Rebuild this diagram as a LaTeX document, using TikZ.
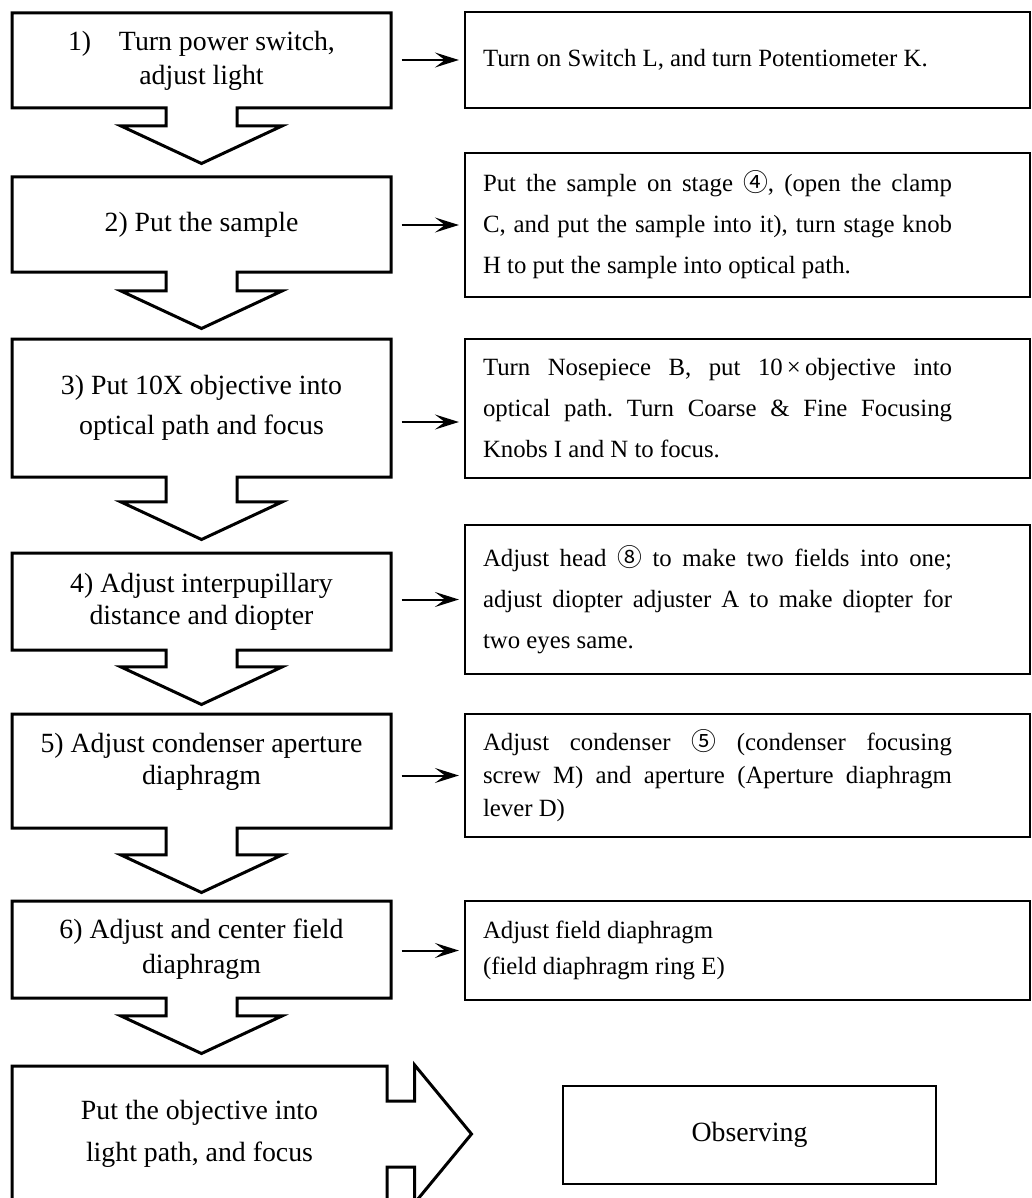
\documentclass[tikz,border=0pt]{standalone}
\usepackage{fontspec}
\setmainfont{Liberation Serif}
\newfontfamily\circfont{Noto Sans CJK SC}
\usetikzlibrary{shapes.arrows}
\usetikzlibrary{arrows.meta}

\newcommand{\circnum}[1]{{\circfont #1}}
\newcommand{\rtext}[2][20.5pt]{\parbox{234.5pt}{\frenchspacing\baselineskip=#1\relax #2}\hspace*{30pt}}

\begin{document}
\begin{tikzpicture}[x=0.5pt, y=-0.5pt,
  stepbox/.style={arrow box, draw, line width=1.5pt, align=center,
    minimum width=189.5pt, font=\fontsize{13.9}{17}\selectfont,
    arrow box north arrow=-1pt, arrow box east arrow=-1pt,
    arrow box west arrow=-1pt, arrow box south arrow=27pt,
    arrow box shaft width=35.5pt, arrow box head extend=22.5pt,
    arrow box tip angle=130},
  infobox/.style={draw, line width=1.1pt, minimum width=282.5pt,
    inner xsep=9pt, font=\fontsize{12.4}{20.5}\selectfont},
  sidearrow/.style={-{Stealth[length=12pt, width=7.5pt, inset=5pt]},
    line width=1pt, shorten <=4.5pt, shorten >=2.5pt}]
  \useasboundingbox (0,0) rectangle (1032,1198);
  \clip (0,0) rectangle (1032,1198);

  \node[stepbox, minimum height=47.5pt] (s1) at (201.5,60.5)
    {1)\hspace{1em}Turn power switch,\\adjust light};
  \node[stepbox, minimum height=47.5pt, arrow box south arrow=27.5pt] (s2) at (201.5,224.5)
    {2) Put the sample};
  \node[stepbox, minimum height=69pt, arrow box south arrow=30.5pt,
    font=\fontsize{13.9}{20}\selectfont] (s3) at (201.5,408)
    {3) Put 10X objective into\\optical path and focus};
  \node[stepbox, minimum height=48.5pt, arrow box south arrow=26.5pt,
    font=\fontsize{13.9}{16}\selectfont] (s4) at (201.5,601.5)
    {4) Adjust interpupillary\\distance and diopter};
  \node[stepbox, minimum height=57pt, arrow box south arrow=31.5pt,
    font=\fontsize{13.9}{16}\selectfont] (s5) at (201.5,771)
    {5) Adjust condenser aperture\\diaphragm\\[-4pt]\mbox{}};
  \node[stepbox, minimum height=48.5pt, font=\fontsize{13.9}{17.5}\selectfont] (s6) at (201.5,949.5)
    {6) Adjust and center field\\diaphragm};
  \node[stepbox, minimum width=187.5pt, minimum height=68pt,
    arrow box south arrow=-1pt, arrow box east arrow=41.5pt,
    arrow box shaft width=33pt, arrow box head extend=18pt, arrow box tip angle=101,
    font=\fontsize{13.9}{21}\selectfont] (s7) at (199.5,1134)
    {Put the objective into\\light path, and focus};

  \node[infobox, minimum height=48pt] (d1) at (747.5,60)
    {\rtext{Turn on Switch L, and turn Potentiometer K.}};
  \node[infobox, minimum height=72pt] (d2) at (747.5,225)
    {\rtext{Put the sample on stage \circnum{④}, (open the clamp\linebreak
      C, and put the sample into it), turn stage knob\linebreak
      H to put the sample into optical path.}};
  \node[infobox, minimum height=69.5pt] (d3) at (747.5,408.5)
    {\rtext{Turn Nosepiece B, put 10\,×\,objective into\linebreak
      optical path. Turn Coarse \& Fine Focusing\linebreak
      Knobs I and N to focus.}};
  \node[infobox, minimum height=74.5pt] (d4) at (747.5,599.5)
    {\rtext{Adjust head \circnum{⑧} to make two fields into one;\linebreak
      adjust diopter adjuster A to make diopter for\linebreak
      two eyes same.}};
  \node[infobox, minimum height=61.5pt] (d5) at (747.5,775.5)
    {\rtext[16.5pt]{Adjust condenser \circnum{⑤} (condenser focusing\linebreak
      screw M) and aperture (Aperture diaphragm\linebreak
      lever D)}};
  \node[infobox, minimum height=49.5pt] (d6) at (747.5,950.5)
    {\rtext[18pt]{Adjust field diaphragm\\(field diaphragm ring E)}};
  \node[draw, line width=1.4pt, minimum width=186.5pt, minimum height=49pt,
    font=\fontsize{13.9}{17}\selectfont] (obs) at (749.5,1135) {Observing};

  \draw[sidearrow] (d1.west -| s1.east) -- (d1.west);
  \draw[sidearrow] (d2.west -| s2.east) -- (d2.west);
  \draw[sidearrow] ([yshift=-7pt]s3.east) -- ([yshift=-7pt]s3.east -| d3.west);
  \draw[sidearrow] (d4.west -| s4.east) -- (d4.west);
  \draw[sidearrow] (d5.west -| s5.east) -- (d5.west);
  \draw[sidearrow] (d6.west -| s6.east) -- (d6.west);
\end{tikzpicture}
\end{document}
